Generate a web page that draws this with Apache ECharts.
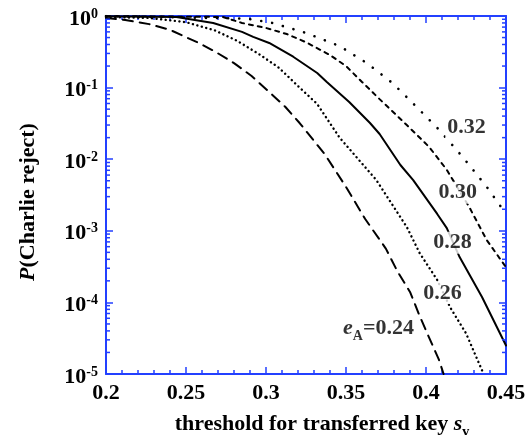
<!DOCTYPE html>
<html>
<head>
<meta charset="utf-8">
<script src="https://cdn.jsdelivr.net/npm/echarts@6/dist/echarts.min.js"></script>
<style>
  html, body { margin: 0; padding: 0; background: #fff; }
  #chart { width: 531px; height: 435px; }
</style>
</head>
<body>
<div id="chart"></div>
<script>
// curves: [threshold s_v, P(Charlie reject)]
const eA24 = [[0.200, 0.94], [0.212, 0.88], [0.227, 0.77], [0.240, 0.64], [0.258, 0.42], [0.268, 0.32],
  [0.280, 0.22], [0.291, 0.145], [0.302, 0.087], [0.312, 0.054], [0.321, 0.032], [0.337, 0.0115],
  [0.350, 0.0041], [0.362, 0.00146], [0.375, 5.6e-4], [0.382, 2.75e-4], [0.390, 1.4e-4],
  [0.396, 6.5e-5], [0.401, 3.6e-5], [0.408, 1.6e-5], [0.411, 1.0e-5]];
const eA26 = [[0.200, 0.97], [0.227, 0.94], [0.250, 0.82], [0.268, 0.63], [0.282, 0.45], [0.296, 0.29],
  [0.308, 0.19], [0.321, 0.10], [0.332, 0.059], [0.346, 0.020], [0.358, 0.0098], [0.369, 0.0051],
  [0.377, 0.0027], [0.388, 0.00113], [0.396, 4.9e-4], [0.407, 2.06e-4], [0.415, 8.6e-5],
  [0.425, 3.7e-5], [0.433, 1.43e-5], [0.436, 1.0e-5]];
const eA28 = [[0.200, 0.99], [0.244, 0.97], [0.267, 0.80], [0.285, 0.60], [0.292, 0.51], [0.302, 0.42],
  [0.317, 0.27], [0.332, 0.16], [0.338, 0.12], [0.352, 0.063], [0.365, 0.032], [0.371, 0.0225],
  [0.384, 0.0083], [0.392, 0.0051], [0.407, 0.00172], [0.413, 0.00109], [0.421, 4.3e-4],
  [0.435, 1.19e-4], [0.450, 2.5e-5]];
const eA30 = [[0.200, 0.995], [0.273, 0.97], [0.285, 0.80], [0.300, 0.68], [0.313, 0.56], [0.325, 0.43],
  [0.340, 0.285], [0.350, 0.20], [0.360, 0.12], [0.371, 0.069], [0.388, 0.030], [0.402, 0.0148],
  [0.413, 0.0071], [0.427, 0.00215], [0.438, 7.4e-4], [0.450, 3.1e-4]];
const eA32 = [[0.200, 0.998], [0.288, 0.92], [0.304, 0.80], [0.325, 0.58], [0.346, 0.38], [0.363, 0.22],
  [0.379, 0.116], [0.394, 0.054], [0.408, 0.026], [0.423, 0.0107], [0.438, 0.0041], [0.450, 0.00172]];

// curve labels: [x, y, text]
const curveLabels = [
  [0.4253, 0.028, '0.32'],
  [0.4198, 0.0034, '0.30'],
  [0.4166, 6.8e-4, '0.28'],
  [0.4103, 1.35e-4, '0.26'],
  [0.3703, 4.4e-5, '{i|e}{sub|A}=0.24']
];

const xTicks = ['0.2', '0.25', '0.3', '0.35', '0.4', '0.45'];
const yExponents = ['0', '-1', '-2', '-3', '-4', '-5'];

// minor ticks of the log axis: 2..9 times each decade
const yMinor = [];
for (let d = -5; d < 0; d++) {
  for (let m = 2; m <= 9; m++) yMinor.push(m * Math.pow(10, d));
}

const FONT = '"Liberation Serif", "Times New Roman", serif';
const BLUE = '#2340ff';

const chart = echarts.init(document.getElementById('chart'), null, { renderer: 'canvas' });

function xAxisBase (pos) {
  return {
    type: 'value',
    position: pos,
    min: 0.2,
    max: 0.45,
    interval: 0.05,
    axisLine: { show: true, onZero: false, lineStyle: { color: BLUE, width: 2 } },
    axisTick: { show: true, inside: true, length: 7, lineStyle: { color: BLUE, width: 1.5 } },
    minorTick: { show: true, splitNumber: 5, length: 4, lineStyle: { color: BLUE, width: 1.5 } },
    splitLine: { show: false },
    axisLabel: { show: false }
  };
}
function yAxisBase (pos) {
  return {
    type: 'log',
    logBase: 10,
    position: pos,
    min: 1e-5,
    max: 1,
    axisLine: { show: true, onZero: false, lineStyle: { color: BLUE, width: 2 } },
    axisTick: { show: true, inside: true, length: 7, lineStyle: { color: BLUE, width: 1.5 } },
    minorTick: { show: false },
    splitLine: { show: false },
    axisLabel: { show: false }
  };
}

const xBottom = xAxisBase('bottom');
xBottom.axisLabel = {
  show: true, margin: 8, color: '#000', fontFamily: FONT, fontSize: 22, fontWeight: 'bold',
  formatter: (v) => xTicks[Math.round((v - 0.2) / 0.05)]
};
xBottom.name = 'threshold for transferred key {i|s}{sub|v}';
xBottom.nameLocation = 'middle';
xBottom.nameGap = 32;
xBottom.nameTextStyle = {
  color: '#000', fontFamily: FONT, fontSize: 22, fontWeight: 'bold', lineHeight: 30,
  padding: [0, 0, 0, 32],
  rich: {
    i: { fontFamily: FONT, fontSize: 22, fontWeight: 'bold', fontStyle: 'italic', color: '#000', lineHeight: 30 },
    sub: { fontFamily: FONT, fontSize: 14, fontWeight: 'bold', color: '#000', lineHeight: 14, verticalAlign: 'bottom' }
  }
};

const yLeft = yAxisBase('left');
yLeft.axisLabel = {
  show: true, margin: 8, color: '#000', padding: [6, 0, 0, 0],
  formatter: (v) => '{b|10}{s|' + yExponents[Math.round(-Math.log10(v))] + '}',
  rich: {
    b: { fontFamily: FONT, fontSize: 22, fontWeight: 'bold', color: '#000', lineHeight: 24 },
    s: { fontFamily: FONT, fontSize: 14, fontWeight: 'bold', color: '#000', lineHeight: 14, verticalAlign: 'top' }
  }
};
yLeft.name = '{i|P}(Charlie reject)';
yLeft.nameLocation = 'middle';
yLeft.nameGap = 67;
yLeft.nameTextStyle = {
  color: '#000', fontFamily: FONT, fontSize: 22, fontWeight: 'bold',
  padding: [0, 14, 0, 0],
  rich: { i: { fontFamily: FONT, fontSize: 22, fontWeight: 'bold', fontStyle: 'italic', color: '#000' } }
};

function curve (data, type, width) {
  return {
    type: 'line',
    data: data,
    showSymbol: false,
    silent: true,
    lineStyle: { color: '#000', width: width, type: type, cap: 'round' }
  };
}

chart.setOption({
  animation: false,
  backgroundColor: '#fff',
  grid: { left: 106, right: 25, top: 16, bottom: 61, containLabel: false, outerBoundsMode: 'none' },
  xAxis: [xBottom, xAxisBase('top')],
  yAxis: [yLeft, yAxisBase('right')],
  series: [
    curve(eA24, [10, 7], 2),
    curve(eA26, [0.1, 4.5], 2.4),
    curve(eA28, 'solid', 2),
    curve(eA30, [4, 5], 2),
    curve(eA32, [0.1, 11], 2.6),
    {
      type: 'scatter',
      silent: true,
      symbolSize: 0,
      z: 5,
      data: curveLabels.map(d => ({ value: [d[0], d[1]], name: d[2] })),
      label: {
        show: true, position: 'inside', color: '#000', fontFamily: FONT, fontSize: 22, fontWeight: 'bold',
        backgroundColor: '#fff', padding: [0, 2],
        formatter: (p) => p.name,
        rich: {
          i: { fontFamily: FONT, fontSize: 22, fontWeight: 'bold', fontStyle: 'italic', color: '#000', lineHeight: 30 },
          sub: { fontFamily: FONT, fontSize: 14, fontWeight: 'bold', color: '#000', lineHeight: 14, verticalAlign: 'bottom' }
        }
      }
    },
    {
      // minor ticks on the left and right log axes
      type: 'custom',
      silent: true,
      clip: false,
      z: 6,
      data: yMinor.map(v => [0.2, v]),
      encode: { x: 0, y: 1 },
      renderItem: function (params, api) {
        const l = api.coord([0.2, api.value(1)]);
        const r = api.coord([0.45, api.value(1)]);
        const style = { stroke: BLUE, lineWidth: 1.5 };
        return {
          type: 'group',
          children: [
            { type: 'line', shape: { x1: l[0], y1: l[1], x2: l[0] + 4, y2: l[1] }, style: style },
            { type: 'line', shape: { x1: r[0], y1: r[1], x2: r[0] - 4, y2: r[1] }, style: style }
          ]
        };
      }
    }
  ]
});
</script>
</body>
</html>
